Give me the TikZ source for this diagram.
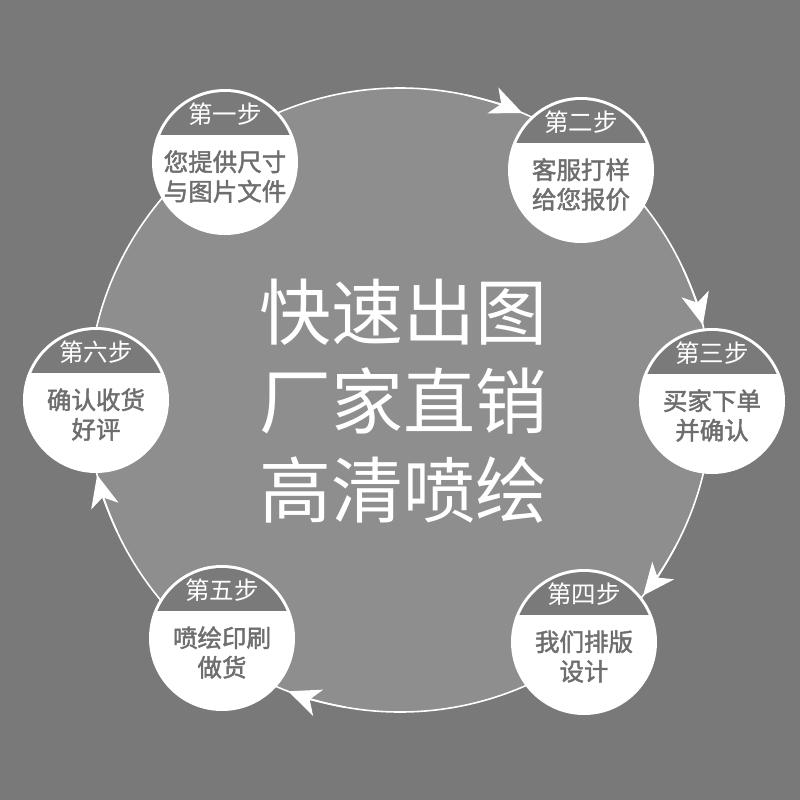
\documentclass[tikz,border=0pt]{standalone}
\usepackage{fontspec}
\newfontfamily\cjk{Noto Sans CJK SC}
\newfontfamily\cjkm[FakeBold=1.8]{Noto Sans CJK SC}
\usetikzlibrary{arrows.meta,calc}
\definecolor{bgc}{HTML}{797979}
\definecolor{innerc}{HTML}{8E8E8E}
\definecolor{bandc}{HTML}{7A7A7A}
\definecolor{txtc}{HTML}{6E6E6E}
\tikzset{
  stepcirc/.style={circle, fill=white, minimum size=146pt, inner sep=0pt},
  headtxt/.style={text=white, font=\cjk\fontsize{24.5}{24.5}\selectfont, inner sep=0pt},
  bodytxt/.style={text=txtc, font=\cjkm\fontsize{24.5}{29.5}\selectfont, align=center, inner sep=0pt},
  ring/.style={white, line width=1.6pt},
  flow/.style={white, line width=1.6pt, -{Stealth[length=32pt,width=28pt,inset=9pt]}},
}
\newcommand{\stepitem}[5]{%
  \node[stepcirc] (#1) at (#2) {};
  \begin{scope}
    \clip (#1.center) circle (70pt);
    \fill[bandc] ($(#1.center)+(-80,-80)$) rectangle ($(#1.center)+(80,-27)$);
  \end{scope}
  \node[headtxt] (#1h) at ($(#1.center)+(0,-48)$) {#3};
  \node[bodytxt] (#1b) at ($(#1.center)+(0,14.5)$) {#4\\#5};
}
\begin{document}
\begin{tikzpicture}[x=1pt,y=-1pt]
\fill[bgc] (0,0) rectangle (800,800);
\useasboundingbox (0,0) rectangle (800,800);
\coordinate (O) at (400,400);
\fill[innerc] (O) circle (312pt);
\draw[ring] (O) circle (312pt);
% arrowheads along the ring
\draw[flow] (O) ++(78:312pt) arc[start angle=78, end angle=66.9, radius=312pt];
\draw[flow] (O) ++(25:312pt) arc[start angle=25, end angle=13.9, radius=312pt];
\draw[flow] (O) ++(-28:312pt) arc[start angle=-28, end angle=-38.8, radius=312pt];
\draw[flow] (O) ++(-100:312pt) arc[start angle=-100, end angle=-111, radius=312pt];
\draw[flow] (O) ++(-155:312pt) arc[start angle=-155, end angle=-166.1, radius=312pt];
% steps
\stepitem{s1}{225,162}{第一步}{您提供尺寸}{与图片文件}
\stepitem{s2}{581,170}{第二步}{客服打样}{给您报价}
\stepitem{s3}{712,401}{第三步}{买家下单}{并确认}
\stepitem{s4}{584,642}{第四步}{我们排版}{设计}
\stepitem{s5}{222,638}{第五步}{喷绘印刷}{做货}
\stepitem{s6}{96,400}{第六步}{确认收货}{好评}
% title
\node[text=white, font=\cjk\fontsize{72}{89}\selectfont, align=center, inner sep=0pt] (title) at (403,401) {快速出图\\厂家直销\\高清喷绘};
\end{tikzpicture}
\end{document}
